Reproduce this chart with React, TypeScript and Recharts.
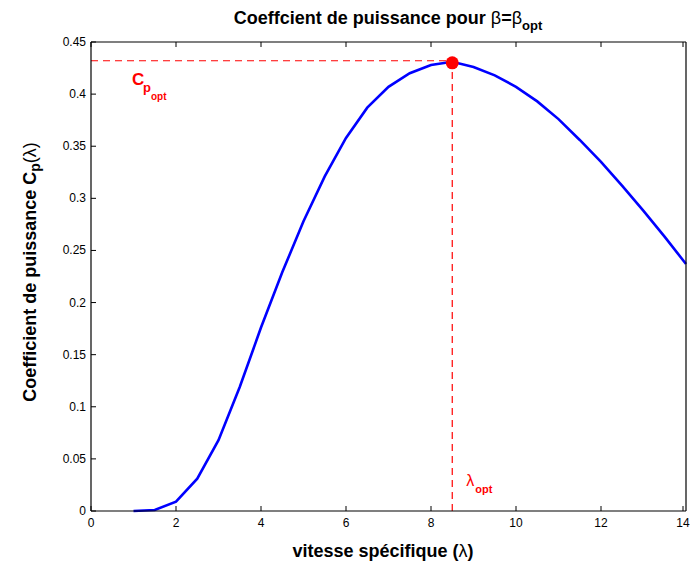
import { LineChart, Line, XAxis, YAxis, ReferenceLine, ReferenceDot } from "recharts";

// vitesse spécifique (lambda) and Cp values
const lambdas = [1, 1.5, 2, 2.5, 3, 3.5, 4, 4.5, 5, 5.5, 6, 6.5, 7, 7.5, 8, 8.5, 9, 9.5, 10, 10.5, 11, 11.5, 12, 12.5, 13, 13.5, 14];
const cpValues = [0, 0.001, 0.009, 0.031, 0.068, 0.119, 0.176, 0.229, 0.278, 0.321, 0.358, 0.387, 0.407, 0.42, 0.428, 0.431, 0.426, 0.418, 0.407, 0.393, 0.376, 0.356, 0.335, 0.312, 0.288, 0.263, 0.237];
const xTicks = [0, 2, 4, 6, 8, 10, 12, 14];
const yTicks = [0, 0.05, 0.1, 0.15, 0.2, 0.25, 0.3, 0.35, 0.4, 0.45];
const lambdaOpt = 8.5;
const cpOpt = 0.432;

const data = lambdas.map((l, i) => ({ lambda: l, cp: cpValues[i] }));

const FONT = '"Liberation Sans", Arial, Helvetica, sans-serif';
const TICK = 5;
const axisStroke = { stroke: "#000", strokeWidth: 1.2 };

// matlab style ticks: pointing into the plot box
const BottomTick = ({ x, y, payload }: any) => {
  const y0 = y - 7;
  return (
    <g>
      <line x1={x} x2={x} y1={y0} y2={y0 - TICK} stroke="#000" />
      <text x={x} y={y0 + 16} textAnchor="middle" fontSize={12} fontFamily={FONT} fill="#000">
        {payload.value}
      </text>
    </g>
  );
};

const LeftTick = ({ x, y, payload }: any) => {
  const x0 = x + 5;
  return (
    <g>
      <line x1={x0} x2={x0 + TICK} y1={y} y2={y} stroke="#000" />
      <text x={x} y={y + 4} textAnchor="end" fontSize={12} fontFamily={FONT} fill="#000">
        {payload.value}
      </text>
    </g>
  );
};

const TopTick = ({ x, y }: any) => <line x1={x} x2={x} y1={y} y2={y + TICK} stroke="#000" />;
const RightTick = ({ x, y }: any) => <line x1={x} x2={x - TICK} y1={y} y2={y} stroke="#000" />;

const CpLabel = ({ viewBox }: any) => {
  const x = viewBox.x;
  const y = viewBox.y;
  return (
    <text fill="#ff0000" fontFamily={FONT} fontWeight="bold">
      <tspan x={x + 41} y={y + 24} fontSize={17}>C</tspan>
      <tspan x={x + 52} y={y + 31} fontSize={13}>p</tspan>
      <tspan x={x + 60} y={y + 39} fontSize={10}>opt</tspan>
    </text>
  );
};

const LambdaLabel = ({ viewBox }: any) => {
  const x = viewBox.x;
  const yb = viewBox.y + viewBox.height;
  return (
    <text fill="#ff0000" fontFamily={FONT}>
      <tspan x={x + 14} y={yb - 25} fontSize={16}>λ</tspan>
      <tspan x={x + 23} y={yb - 18} fontSize={11} fontWeight="bold">opt</tspan>
    </text>
  );
};

export default function App() {
  return (
    <div style={{ position: "absolute", left: 0, top: 0, width: 691, height: 565, background: "#fff" }}>
      <LineChart width={691} height={565} data={data} margin={{ top: 41, right: 4, bottom: 24, left: 31 }}>
        <XAxis
          dataKey="lambda"
          type="number"
          domain={[0, 14]}
          ticks={xTicks}
          height={30}
          tickSize={0}
          tickMargin={7}
          tick={<BottomTick />}
          axisLine={axisStroke}
          tickLine={false}
        />
        <XAxis
          xAxisId="top"
          orientation="top"
          dataKey="lambda"
          type="number"
          domain={[0, 14]}
          ticks={xTicks}
          height={1}
          tickSize={0}
          tickMargin={0}
          tick={<TopTick />}
          axisLine={axisStroke}
          tickLine={false}
        />
        <YAxis
          type="number"
          domain={[0, 0.45]}
          ticks={yTicks}
          width={60}
          tickSize={0}
          tickMargin={5}
          tick={<LeftTick />}
          axisLine={axisStroke}
          tickLine={false}
        />
        <YAxis
          yAxisId="right"
          orientation="right"
          type="number"
          domain={[0, 0.45]}
          ticks={yTicks}
          width={1}
          tickSize={0}
          tickMargin={0}
          tick={<RightTick />}
          axisLine={axisStroke}
          tickLine={false}
        />
        <ReferenceLine
          segment={[{ x: 0, y: cpOpt }, { x: lambdaOpt, y: cpOpt }]}
          stroke="#ff0000"
          strokeWidth={1.2}
          strokeDasharray="7 5"
          label={<CpLabel />}
        />
        <ReferenceLine
          segment={[{ x: lambdaOpt, y: 0 }, { x: lambdaOpt, y: cpOpt }]}
          stroke="#ff0000"
          strokeWidth={1.2}
          strokeDasharray="7 5"
          label={<LambdaLabel />}
        />
        <Line type="linear" dataKey="cp" stroke="#0000ff" strokeWidth={2.6} dot={false} isAnimationActive={false} />
        <ReferenceDot x={lambdaOpt} y={0.43} r={6.5} fill="#ff0000" stroke="none" />
      </LineChart>
      <svg width={691} height={565} style={{ position: "absolute", left: 0, top: 0, pointerEvents: "none" }}>
        <text x={388} y={24} textAnchor="middle" fontSize={18} fontWeight="bold" fontFamily={FONT} fill="#000">
          Coeffcient de puissance pour <tspan fontWeight="normal">β</tspan>=<tspan fontWeight="normal">β</tspan>
          <tspan dy={6} fontSize={13}>opt</tspan>
        </text>
        <text x={383} y={557} textAnchor="middle" fontSize={18} fontWeight="bold" fontFamily={FONT} fill="#000">
          vitesse spécifique (<tspan fontWeight="normal">λ</tspan>)
        </text>
        <text
          transform="translate(36,272) rotate(-90)"
          textAnchor="middle"
          fontSize={18}
          fontWeight="bold"
          fontFamily={FONT}
          fill="#000"
        >
          Coefficient de puissance C<tspan dy={4} fontSize={14}>p</tspan>
          <tspan dy={-4} fontWeight="normal">(λ)</tspan>
        </text>
      </svg>
    </div>
  );
}
